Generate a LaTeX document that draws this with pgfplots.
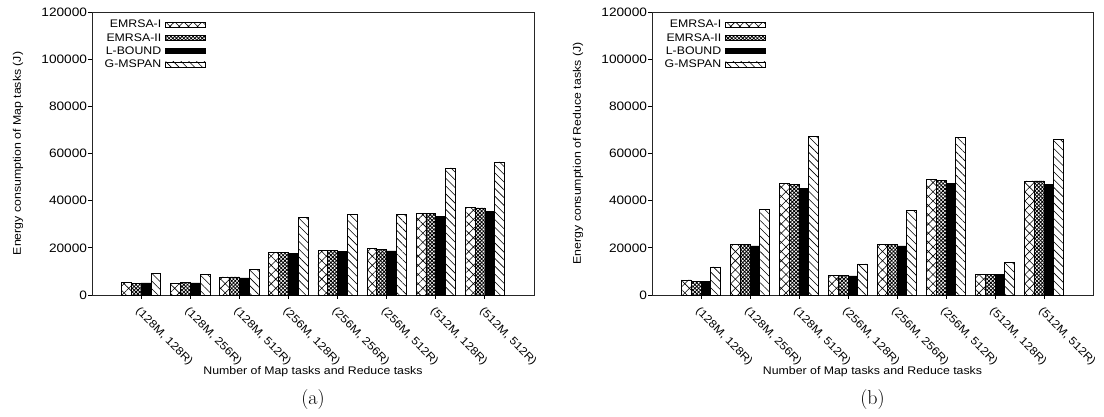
\documentclass[border=0pt]{standalone}
\usepackage{fontspec}
\newfontfamily\chartfam{Liberation Sans}[FakeStretch=1.12]
\usepackage{pgfplots}
\pgfplotsset{compat=1.18}
\usetikzlibrary{patterns,patterns.meta}
\newcommand{\chartfont}{\chartfam\fontsize{11bp}{13bp}\selectfont}
\newcommand{\legfont}{\chartfam\fontsize{11bp}{13bp}\selectfont}
\newcommand{\xtickfont}{\chartfam\fontsize{11bp}{13bp}\selectfont}
\newcommand{\ytickfont}{\chartfam\fontsize{12.2bp}{14bp}\selectfont}
\pgfplotsset{
  myaxis/.style={
    scale only axis, width=442bp, height=283bp,
    anchor=south west,
    ybar=0pt, bar width=0.2,
    xmin=-1, xmax=8, ymin=0, ymax=120000,
    xtick={0,1,...,7},
    xticklabels={{(128M, 128R)},{(128M, 256R)},{(128M, 512R)},{(256M, 128R)},{(256M, 256R)},{(256M, 512R)},{(512M, 128R)},{(512M, 512R)}},
    ytick={0,20000,40000,60000,80000,100000,120000},
    scaled y ticks=false,
    /pgf/number format/fixed,
    /pgf/number format/1000 sep={},
    /pgf/number format/assume math mode=true,
    tick align=outside, xtick pos=bottom, ytick pos=left,
    major tick length=4bp,
    axis line style={line width=0.8bp, black!85},
    tick style={line width=0.8bp, black},
    xticklabel style={font=\xtickfont, rotate=-45, anchor=north west, inner sep=1bp, xshift=4bp, yshift=-4bp},
    yticklabel style={font=\ytickfont, inner sep=0.8bp},
    label style={font=\chartfont},
    xlabel style={at={(axis description cs:0.5,0)}, anchor=center, yshift=-77bp},
    ylabel style={at={(axis description cs:0,0.5)}, anchor=center, yshift=74bp},
    xlabel={Number of Map tasks and Reduce tasks},
    clip=false,
    legend plot pos=right,
    legend cell align=right,
    legend image code/.code={\draw[#1,line width=0.5bp] (0bp,-2.5bp) rectangle (40bp,2.5bp);},
    legend style={at={(axis description cs:0,1)}, anchor=north west, xshift=8bp, yshift=-4.5bp,
      draw=none, fill=none, font=\legfont, row sep=1bp, column sep=2.5bp,
      nodes={inner sep=1.5bp}},
  },
  sA/.style={draw=black, line width=0.7bp, pattern={Hatch[angle=45,distance=6.5bp,line width=0.6bp]}},
  sB/.style={draw=black, line width=0.7bp, pattern={Hatch[angle=45,distance=2.6bp,line width=0.8bp]}},
  sC/.style={draw=black, line width=0.7bp, fill=black},
  sD/.style={draw=black, line width=0.7bp, pattern={Lines[angle=-45,distance=5.5bp,line width=0.6bp]}},
}
\begin{document}
\begin{tikzpicture}
\useasboundingbox (0,0) rectangle (1104bp,417bp);
\begin{axis}[myaxis, at={(92bp,122bp)},
  ylabel={Energy consumption of Map tasks (J)}]
\addplot[sA] coordinates {(0,5400) (1,5000) (2,7650) (3,18150) (4,19000) (5,19800) (6,34700) (7,37300)};
\addplot[sB] coordinates {(0,5000) (1,5400) (2,7650) (3,18150) (4,19000) (5,19400) (6,34700) (7,36900)};
\addplot[sC] coordinates {(0,5100) (1,5100) (2,7250) (3,17700) (4,18300) (5,18700) (6,33200) (7,35300)};
\addplot[sD] coordinates {(0,9200) (1,8800) (2,11000) (3,33000) (4,34300) (5,34300) (6,53900) (7,56400)};
\legend{EMRSA-I,EMRSA-II,L-BOUND,G-MSPAN}
\node[font=\rmfamily\fontsize{20bp}{22bp}\selectfont, anchor=center] at (axis description cs:0.5,0) [yshift=-105bp] {(a)};
\end{axis}
\begin{axis}[myaxis, at={(652bp,122bp)}, width=441bp,
  ylabel={Energy consumption of Reduce tasks (J)}]
\addplot[sA] coordinates {(0,6400) (1,21300) (2,47200) (3,8400) (4,21500) (5,48900) (6,8800) (7,48400)};
\addplot[sB] coordinates {(0,5800) (1,21500) (2,46800) (3,8400) (4,21500) (5,48500) (6,8800) (7,48400)};
\addplot[sC] coordinates {(0,5900) (1,20800) (2,45100) (3,8100) (4,20800) (5,47400) (6,8800) (7,46800)};
\addplot[sD] coordinates {(0,11900) (1,36400) (2,67400) (3,13200) (4,36000) (5,66800) (6,13900) (7,66000)};
\legend{EMRSA-I,EMRSA-II,L-BOUND,G-MSPAN}
\node[font=\rmfamily\fontsize{20bp}{22bp}\selectfont, anchor=center] at (axis description cs:0.5,0) [yshift=-105bp] {(b)};
\end{axis}
\end{tikzpicture}
\end{document}
